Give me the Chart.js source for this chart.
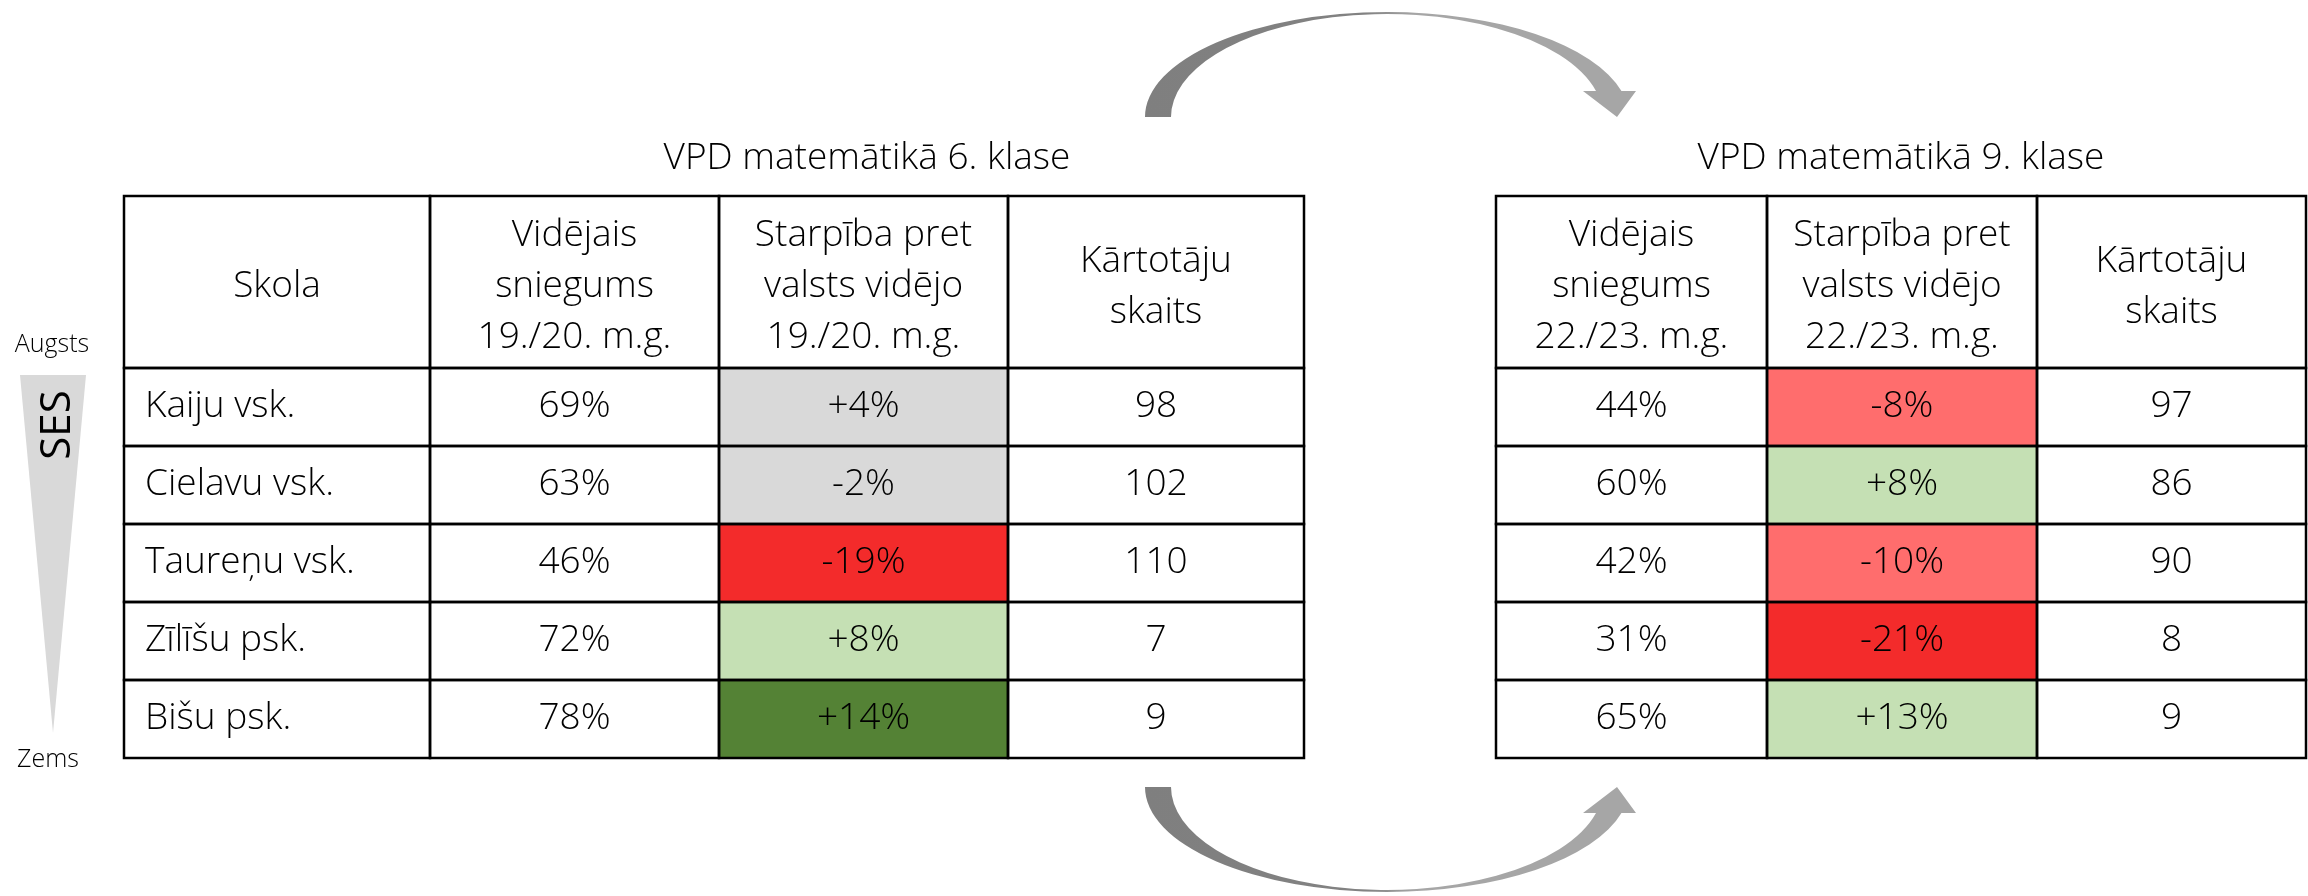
<!DOCTYPE html>
<html>
<head>
<meta charset="utf-8">
<script src="https://cdn.jsdelivr.net/npm/chart.js@4.4.0/dist/chart.umd.min.js"></script>
<style>
  html, body { margin: 0; padding: 0; background: #fff; }
  #wrap { width: 2308px; height: 896px; position: relative; }
</style>
</head>
<body>
<div id="wrap"><canvas id="tabula" width="2308" height="896"></canvas></div>
<script>
// --- dati ---
const skolas = ['Kaiju vsk.', 'Cielavu vsk.', 'Taureņu vsk.', 'Zīlīšu psk.', 'Bišu psk.'];
const videjais6 = [69, 63, 46, 72, 78];
const starpiba6 = [4, -2, -19, 8, 14];
const kartotaji6 = [98, 102, 110, 7, 9];
const videjais9 = [44, 60, 42, 31, 65];
const starpiba9 = [-8, 8, -10, -21, 13];
const kartotaji9 = [97, 86, 90, 8, 9];

const virsraksti = ['VPD matemātikā 6. klase', 'VPD matemātikā 9. klase'];
const galvene6 = [['Skola'], ['Vidējais', 'sniegums', '19./20. m.g.'], ['Starpība pret', 'valsts vidējo', '19./20. m.g.'], ['Kārtotāju', 'skaits']];
const galvene9 = [['Vidējais', 'sniegums', '22./23. m.g.'], ['Starpība pret', 'valsts vidējo', '22./23. m.g.'], ['Kārtotāju', 'skaits']];

// --- izkārtojums ---
const platumi6 = [306, 289, 289, 296];
const atstarpe = 192;
const platumi9 = [271, 270, 269];
const galvenesAugstums = 172;
const FONTS = '"Open Sans", "Noto Sans", sans-serif';
const svars = 350;
const izmers = 37;
const capH = izmers * 0.714;

function krasa(v) {
    if (v <= -15) return '#f32b2b';
    if (v <= -5) return '#ff6d6d';
    if (v < 5) return '#d9d9d9';
    if (v < 14) return '#c5e0b4';
    return '#548235';
}

const proc = v => v + '%';
const zime = v => (v > 0 ? '+' : '') + v + '%';

const kolonnas = [
    { tabula: 0, platums: platumi6[0], teksti: skolas, galvene: galvene6[0], kreisi: true },
    { tabula: 0, platums: platumi6[1], teksti: videjais6.map(proc), galvene: galvene6[1] },
    { tabula: 0, platums: platumi6[2], teksti: starpiba6.map(zime), galvene: galvene6[2], krasas: starpiba6.map(krasa) },
    { tabula: 0, platums: platumi6[3], teksti: kartotaji6.map(String), galvene: galvene6[3] },
    { tukss: true, platums: atstarpe },
    { tabula: 1, platums: platumi9[0], teksti: videjais9.map(proc), galvene: galvene9[0] },
    { tabula: 1, platums: platumi9[1], teksti: starpiba9.map(zime), galvene: galvene9[1], krasas: starpiba9.map(krasa) },
    { tabula: 1, platums: platumi9[2], teksti: kartotaji9.map(String), galvene: galvene9[2] }
];

const kopPlatums = kolonnas.reduce((s, k) => s + k.platums, 0);

// bultas (dekorācija)
function zimetBultu(ctx, cx, y, virziens) {
    const rxA = 242, ryA = 105, rxI = 216, ryI = 103, h = 26;
    const aA = Math.asin(h / ryA), aI = Math.asin(h / ryI);
    const grad = ctx.createLinearGradient(cx - rxA, 0, cx + 250, 0);
    grad.addColorStop(0, '#7f7f7f');
    grad.addColorStop(0.45, '#828282');
    grad.addColorStop(0.55, '#a6a6a6');
    grad.addColorStop(1, '#a6a6a6');
    ctx.save();
    ctx.fillStyle = grad;
    ctx.beginPath();
    if (virziens < 0) {
        ctx.ellipse(cx, y, rxA, ryA, 0, Math.PI, 2 * Math.PI - aA, false);
        ctx.lineTo(cx + 249, y - h);
        ctx.lineTo(cx + 230, y);
        ctx.lineTo(cx + 196, y - h);
        ctx.ellipse(cx, y, rxI, ryI, 0, 2 * Math.PI - aI, Math.PI, true);
    } else {
        ctx.ellipse(cx, y, rxA, ryA, 0, Math.PI, aA, true);
        ctx.lineTo(cx + 249, y + h);
        ctx.lineTo(cx + 230, y);
        ctx.lineTo(cx + 196, y + h);
        ctx.ellipse(cx, y, rxI, ryI, 0, aI, Math.PI, false);
    }
    ctx.closePath();
    ctx.fill();
    ctx.restore();
}

const tabulasSpraudnis = {
    id: 'tabulasSpraudnis',
    afterDatasetsDraw(chart) {
        const ctx = chart.ctx;
        const area = chart.chartArea;
        const gTop = area.top - galvenesAugstums;
        const robezas = [{}, {}];

        ctx.save();
        ctx.fillStyle = '#000';
        ctx.strokeStyle = '#000';
        ctx.lineWidth = 2.5;
        ctx.textBaseline = 'alphabetic';
        ctx.font = `${svars} ${izmers}px ${FONTS}`;

        kolonnas.forEach((k, di) => {
            if (k.tukss) return;
            const meta = chart.getDatasetMeta(di);
            let x0, x1;
            meta.data.forEach((el, i) => {
                x0 = Math.min(el.base, el.x);
                x1 = Math.max(el.base, el.x);
                const y0 = el.y - el.height / 2;
                ctx.textAlign = k.kreisi ? 'left' : 'center';
                ctx.fillText(k.teksti[i], k.kreisi ? x0 + 21 : (x0 + x1) / 2, el.y - 3 + capH / 2);
                ctx.strokeRect(x0, y0, x1 - x0, el.height);
            });
            // galvene
            ctx.strokeRect(x0, gTop, x1 - x0, galvenesAugstums);
            ctx.textAlign = 'center';
            const vidus = gTop + galvenesAugstums / 2 + 2;
            k.galvene.forEach((t, j) => {
                const yy = vidus + (j - (k.galvene.length - 1) / 2) * 51;
                ctx.fillText(t, (x0 + x1) / 2, yy + capH / 2);
            });
            const r = robezas[k.tabula];
            if (!k.kreisi) {
                r.kreisa = r.kreisa === undefined ? x0 : Math.min(r.kreisa, x0);
                r.laba = r.laba === undefined ? x1 : Math.max(r.laba, x1);
            }
        });

        // virsraksti
        ctx.textAlign = 'center';
        robezas.forEach((r, t) => {
            ctx.fillText(virsraksti[t], (r.kreisa + r.laba) / 2, gTop - 27);
        });

        // SES trijstūris
        ctx.fillStyle = '#d9d9d9';
        ctx.beginPath();
        ctx.moveTo(20, area.top + 7);
        ctx.lineTo(86, area.top + 7);
        ctx.lineTo(53, area.bottom - 25);
        ctx.closePath();
        ctx.fill();

        ctx.fillStyle = '#000';
        ctx.font = `${svars} 25px ${FONTS}`;
        ctx.fillText('Augsts', 52, area.top - 16);
        ctx.fillText('Zems', 48, area.bottom + 9);

        ctx.save();
        ctx.translate(53, area.top + 57);
        ctx.rotate(-Math.PI / 2);
        ctx.font = `400 42px ${FONTS}`;
        ctx.fillText('SES', 0, 17);
        ctx.restore();

        zimetBultu(ctx, 1387, 117, -1);
        zimetBultu(ctx, 1387, 787, 1);
        ctx.restore();
    }
};

function zimet() {
    new Chart(document.getElementById('tabula'), {
        type: 'bar',
        data: {
            labels: skolas,
            datasets: kolonnas.map(k => ({
                data: skolas.map(() => k.platums),
                backgroundColor: k.tukss ? 'rgba(0,0,0,0)' : (k.krasas || '#ffffff'),
                borderWidth: 0,
                barPercentage: 1,
                categoryPercentage: 1,
                stack: 'tabula'
            }))
        },
        options: {
            indexAxis: 'y',
            responsive: false,
            animation: false,
            devicePixelRatio: 1,
            events: [],
            layout: { padding: { left: 124, right: 2, top: 368, bottom: 138 } },
            scales: {
                x: { type: 'linear', display: false, stacked: true, min: 0, max: kopPlatums },
                y: { display: false, stacked: true }
            },
            plugins: {
                legend: { display: false },
                tooltip: { enabled: false }
            }
        },
        plugins: [tabulasSpraudnis]
    });
}

Promise.all([
    document.fonts.load(`${svars} ${izmers}px "Open Sans"`),
    document.fonts.load('400 42px "Open Sans"')
]).then(zimet, zimet);
</script>
</body>
</html>
